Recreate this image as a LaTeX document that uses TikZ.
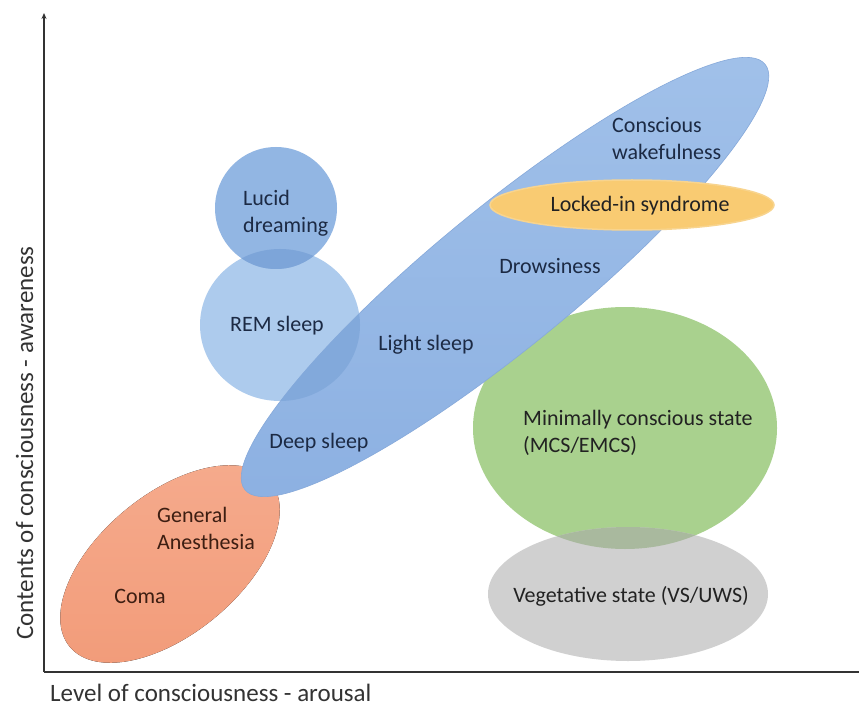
\documentclass[tikz,border=0pt]{standalone}
\usepackage{fontspec}
\setmainfont{Carlito}
\usetikzlibrary{arrows.meta}
\definecolor{remc}{HTML}{ADCBED}
\definecolor{lucidc}{HTML}{92B6E3}
\definecolor{lucidremc}{HTML}{7DA5D9}
\definecolor{bluec}{HTML}{95B8E5}
\definecolor{bluelt}{HTML}{A0C0E9}
\definecolor{bluedk}{HTML}{8DB1E2}
\definecolor{blueedge}{HTML}{86A9DA}
\definecolor{blueremc}{HTML}{82A9DB}
\definecolor{orangelt}{HTML}{F5AA8C}
\definecolor{orangedk}{HTML}{F29C7A}
\definecolor{lockc}{HTML}{F9CB72}
\definecolor{lockedge}{HTML}{F8D48E}
\definecolor{greenc}{HTML}{A9D18E}
\definecolor{grayc}{HTML}{D0D0D0}
\definecolor{greengrayc}{HTML}{A9B99E}
\definecolor{bluetext}{HTML}{1C2A44}
\definecolor{orangetext}{HTML}{3D1E12}
\definecolor{darktext}{HTML}{222222}
\definecolor{axisc}{HTML}{333333}
\begin{document}
\begin{tikzpicture}[x=1pt,y=-1pt,
  lbl/.style={inner sep=0pt, font=\fontsize{22}{27}\selectfont},
  axislbl/.style={inner sep=0pt, font=\fontsize{25}{30}\selectfont, text=axisc},
  axisline/.style={draw=axisc, line width=1.2pt}]
\useasboundingbox (0,0) rectangle (859,711);
\fill[white] (0,0) rectangle (859,711);

% orange: coma / anesthesia
\fill[top color=orangelt, bottom color=orangedk, rotate around={39.5:(170,564)}]
  (170,564) ellipse [x radius=130pt, y radius=70pt];

% REM sleep and lucid dreaming
\fill[remc] (280,325) ellipse [x radius=80pt, y radius=76pt];
\fill[lucidc] (276,208) circle [radius=61pt];
\begin{scope}
  \clip (280,325) ellipse [x radius=80pt, y radius=76pt];
  \fill[lucidremc] (276,208) circle [radius=61pt];
\end{scope}

% green and gray
\fill[greenc] (625,428) ellipse [x radius=152pt, y radius=121pt];
\fill[grayc] (628,594) ellipse [x radius=140pt, y radius=67pt];
\begin{scope}
  \clip (625,428) ellipse [x radius=152pt, y radius=121pt];
  \fill[greengrayc] (628,594) ellipse [x radius=140pt, y radius=67pt];
\end{scope}

% big blue ellipse
\path[top color=bluelt, bottom color=bluedk, draw=blueedge, line width=0.6pt,
  rotate around={39.3:(505,277)}]
  (505,277) ellipse [x radius=336pt, y radius=70pt];
\begin{scope}
  \clip (280,325) ellipse [x radius=80pt, y radius=76pt];
  \fill[blueremc, rotate around={39.3:(505,277)}]
    (505,277) ellipse [x radius=336pt, y radius=70pt];
\end{scope}

% locked-in syndrome
\fill[lockc, draw=lockedge, line width=1.5pt] (632,205) ellipse [x radius=142pt, y radius=25pt];

% axes
\coordinate (O) at (44,672);
\coordinate (ytop) at (44,13);
\coordinate (xend) at (859,672);
\draw[axisline, -{Stealth[length=6pt,width=5pt]}] (O) -- (ytop);
\draw[axisline] (O) -- (xend);

% labels
\node[lbl, text=bluetext, anchor=north west, align=left] (lucid) at (243,190) {Lucid\\dreaming};
\node[lbl, text=bluetext, anchor=base] (rem) at (277,331) {REM sleep};
\node[lbl, text=bluetext, anchor=base] (light) at (426,350) {Light sleep};
\node[lbl, text=bluetext, anchor=base] (deep) at (319,448) {Deep sleep};
\node[lbl, text=bluetext, anchor=north west, align=left] (wake) at (612,117) {Conscious\\wakefulness};
\node[lbl, text=bluetext, anchor=base] (drowsy) at (550,273) {Drowsiness};
\node[lbl, text=darktext, anchor=base] (locked) at (640,212) {Locked-in syndrome};
\node[lbl, text=orangetext, anchor=north west, align=left] (anest) at (157,507) {General\\Anesthesia};
\node[lbl, text=orangetext, anchor=base] (coma) at (140,603) {Coma};
\node[lbl, text=darktext, anchor=north west, align=left] (mcs) at (523,410) {Minimally conscious state\\(MCS/EMCS)};
\node[lbl, text=darktext, anchor=base] (vs) at (631,602) {Vegetative state (VS/UWS)};

\node[axislbl, anchor=base west] (xlbl) at (50,701) {Level of consciousness - arousal};
\node[axislbl, anchor=base, rotate=90] (ylbl) at (33,443) {Contents of consciousness - awareness};
\end{tikzpicture}
\end{document}
